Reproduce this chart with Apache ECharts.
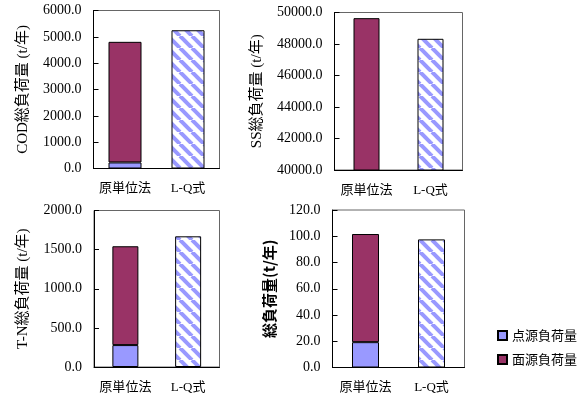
<!DOCTYPE html>
<html><head><meta charset="utf-8">
<script src="https://cdn.jsdelivr.net/npm/echarts@6/dist/echarts.min.js"></script>
<style>html,body{margin:0;padding:0;background:#fff}#c{width:588px;height:398px}</style>
</head><body><div id="c"></div>
<script>
const categories = ['原単位法', 'L-Q式'];
const seriesNames = ['点源負荷量', '面源負荷量', 'L-Q式'];
// [point source, area source] for 原単位法 ; L-Q total
const codPoint = [230, null];
const codArea  = [4580, null];
const codLQ    = [null, 5250];
const ssPoint  = [1000, null];
const ssArea   = [48640, null];
const ssLQ     = [null, 48330];
const tnPoint  = [280, null];
const tnArea   = [1263, null];
const tnLQ     = [null, 1670];
const totPoint = [19.3, null];
const totArea  = [82.4, null];
const totLQ    = [null, 97.6];
const axisNames = ['COD総負荷量 (t/年)', 'SS総負荷量 (t/年)', 'T-N総負荷量 (t/年)', '総負荷量(t/年)'];
const yRanges = [[0, 6000, 1000], [40000, 50000, 2000], [0, 2000, 500], [0, 120, 20]];

function stripe() {
  const n = 12;
  const c = document.createElement('canvas'); c.width = n; c.height = n;
  const g = c.getContext('2d');
  g.fillStyle = '#fff'; g.fillRect(0, 0, n, n);
  g.strokeStyle = '#9999FF'; g.lineWidth = 4;
  for (let k = -2 * n; k <= 2 * n; k += n) { g.beginPath(); g.moveTo(k, 0); g.lineTo(k + n, n); g.stroke(); }
  return c;
}
const pat = { image: stripe(), repeat: 'repeat' };

const grids = [
  { left: 93.5, top: 10.5, width: 126, height: 158 },
  { left: 334.5, top: 12.5, width: 128, height: 157.5 },
  { left: 94, top: 210.5, width: 125.5, height: 156.5 },
  { left: 332.5, top: 210, width: 132, height: 157.5 }
];
const barW = [33, 26, 26, 27];
const nameGaps = [63, 70, 63, 56];
const panels = [[codPoint, codArea, codLQ], [ssPoint, ssArea, ssLQ], [tnPoint, tnArea, tnLQ], [totPoint, totArea, totLQ]];
const serif = '"Liberation Serif", "Noto Sans CJK JP", serif';

const option = { animation: false, backgroundColor: '#fff', grid: [], xAxis: [], yAxis: [], series: [],
  legend: { data: ['点源負荷量', '面源負荷量'], orient: 'vertical', left: 492, top: 324, itemWidth: 9, itemHeight: 9, itemGap: 11, icon: 'rect',
    textStyle: { fontFamily: '"Noto Sans CJK JP"', fontSize: 13, color: '#000' } } };

grids.forEach((g, i) => {
  option.grid.push(Object.assign({ show: true, borderColor: '#666', borderWidth: 1, backgroundColor: 'transparent' }, g));
  option.xAxis.push({ type: 'category', gridIndex: i, data: categories,
    axisLine: { lineStyle: { color: '#000' } },
    axisTick: { inside: true, length: 4, lineStyle: { color: '#000' } },
    axisLabel: { interval: 0, hideOverlap: false, margin: 14, color: '#000', fontSize: 13, fontFamily: serif } });
  const r = yRanges[i];
  option.yAxis.push({ type: 'value', gridIndex: i, min: r[0], max: r[1], interval: r[2],
    name: axisNames[i], nameLocation: 'middle', nameGap: nameGaps[i],
    nameTextStyle: i === 3 ? { fontFamily: '"Noto Sans CJK JP"', fontWeight: 'bold', fontSize: 15, color: '#000' }
                           : { fontFamily: serif, fontSize: 15, color: '#000' },
    axisLine: { show: true, lineStyle: { color: '#000' } },
    axisTick: { show: true, inside: true, length: 5, lineStyle: { color: '#000' } },
    splitLine: { show: false },
    axisLabel: { margin: 12, color: '#000', fontSize: 14, fontFamily: serif, formatter: v => v.toFixed(1) } });
  const [p, a, lq] = panels[i];
  const colors = ['#9999FF', '#993366', pat];
  [p, a, lq].forEach((d, k) => {
    option.series.push({ type: 'bar', name: seriesNames[k], xAxisIndex: i, yAxisIndex: i, stack: 's' + i,
      data: d, barWidth: barW[i], clip: true,
      itemStyle: { color: colors[k], borderColor: '#000', borderWidth: 1 } });
  });
});

const chart = echarts.init(document.getElementById('c'), null, { renderer: 'canvas' });
chart.setOption(option);
</script></body></html>
